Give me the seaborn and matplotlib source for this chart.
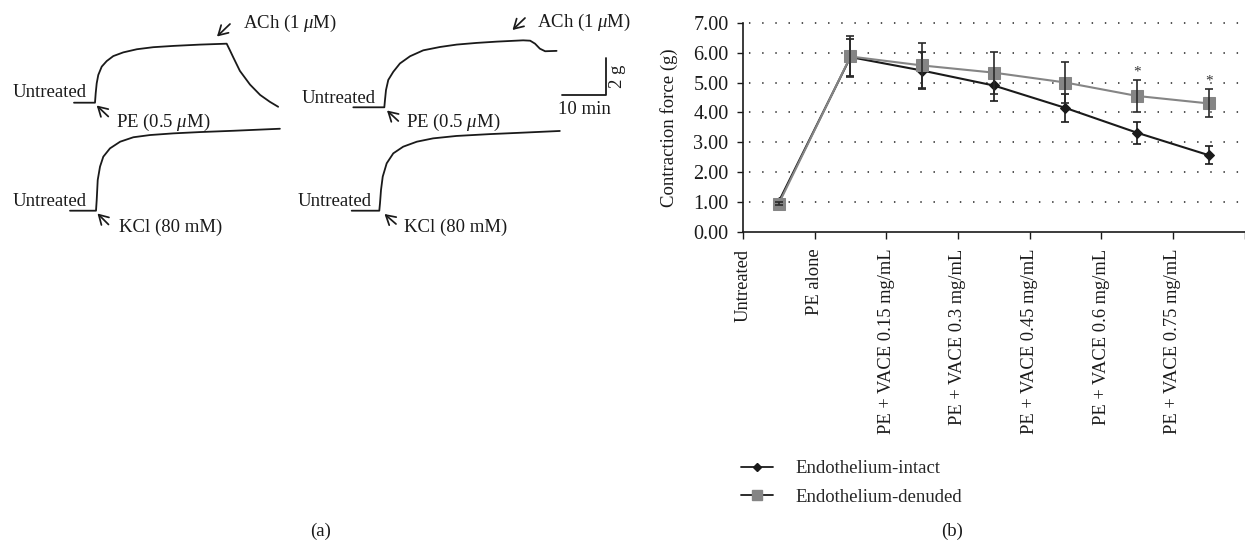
import matplotlib
matplotlib.use("Agg")
import matplotlib.pyplot as plt
import seaborn as sns
import numpy as np
import pandas as pd
from matplotlib.lines import Line2D

# ---------------- data: panel (b) ----------------
categories = ["Untreated", "PE alone", "PE + VACE 0.15 mg/mL", "PE + VACE 0.3 mg/mL",
              "PE + VACE 0.45 mg/mL", "PE + VACE 0.6 mg/mL", "PE + VACE 0.75 mg/mL"]
intact_mean = [1.02, 5.85, 5.40, 4.90, 4.15, 3.32, 2.57]
intact_err = [0.08, 0.62, 0.62, 0.53, 0.48, 0.37, 0.29]
denuded_mean = [0.95, 5.87, 5.57, 5.33, 5.00, 4.55, 4.30]
denuded_err = [0.05, 0.67, 0.75, 0.70, 0.67, 0.52, 0.47]
significant = [False, False, False, False, False, True, True]
y_ticks = [0, 1, 2, 3, 4, 5, 6, 7]

# ---------------- data: panel (a) traces (time in min, force in g) ----------------
pe_intact_t = [0, 4.77, 4.93, 5.16, 5.52, 6.30, 7.43, 8.93, 11.2, 14.3, 18.0, 22.6, 28.6, 34.7,
               35.4, 36.2, 37.7, 40.0, 42.3, 44.5, 46.4]
pe_intact_g = [0, 0, 0.51, 1.05, 1.50, 1.95, 2.25, 2.52, 2.72, 2.89, 3.00, 3.07, 3.14, 3.19,
               2.85, 2.45, 1.72, 0.98, 0.42, 0.05, -0.22]
kcl_intact_t = [0, 5.91, 6.07, 6.30, 6.82, 7.57, 9.09, 11.4, 14.4, 18.2, 23.5, 29.5, 37.1, 47.7]
kcl_intact_g = [0, 0, 0.58, 1.66, 2.38, 2.92, 3.37, 3.73, 3.97, 4.09, 4.18, 4.25, 4.32, 4.43]
pe_denuded_t = [0, 7.05, 7.20, 7.43, 7.95, 9.09, 10.6, 12.9, 15.9, 19.7, 23.5, 28.0, 32.6, 38.6,
                40.2, 41.3, 42.4, 43.6, 46.2]
pe_denuded_g = [0, 0, 0.39, 0.93, 1.48, 1.92, 2.37, 2.76, 3.08, 3.26, 3.39, 3.48, 3.55, 3.62,
                3.60, 3.44, 3.17, 3.03, 3.05]
kcl_denuded_t = [0, 6.27, 6.43, 6.66, 7.05, 7.95, 9.45, 11.7, 14.8, 18.5, 23.8, 31.4, 39.0, 47.3]
kcl_denuded_g = [0, 0, 0.40, 1.12, 1.84, 2.56, 3.10, 3.46, 3.73, 3.91, 4.04, 4.14, 4.22, 4.31]
scale_min = 10
scale_g = 2

# ---------------- style ----------------
sns.set_theme(style="white")
plt.rcParams["font.family"] = ["Liberation Serif", "DejaVu Serif"]
plt.rcParams["mathtext.fontset"] = "custom"
plt.rcParams["mathtext.rm"] = "Liberation Serif"
plt.rcParams["mathtext.it"] = "Liberation Serif:italic"
FS = 13.5
FS_TICK_Y = 14.5
FS_TICK_X = 13.3
INK = "#1a1a1a"
GREY = "#858585"

W, H = 1245, 546
fig = plt.figure(figsize=(W / 100, H / 100), dpi=100)
fig.patch.set_facecolor("white")

# ================= panel (a) =================
axa = fig.add_axes([0, 0, 640 / W, 1])
axa.set_xlim(0, 640)
axa.set_ylim(H, 0)
axa.axis("off")
PX_MIN = 4.4    # px per minute
PX_G = 18.5     # px per gram

traces = [
    (pe_intact_t, pe_intact_g, (74, 102.7)),
    (kcl_intact_t, kcl_intact_g, (70, 210.7)),
    (pe_denuded_t, pe_denuded_g, (353.3, 107.3)),
    (kcl_denuded_t, kcl_denuded_g, (351.7, 210.7)),
]
for t, g, (x0, y0) in traces:
    xs = x0 + np.asarray(t) * PX_MIN
    ys = y0 - np.asarray(g) * PX_G
    sns.lineplot(x=xs, y=ys, sort=False, estimator=None, color=INK, lw=1.3, ax=axa)

arrows = [  # (head, tail)
    ((96.7, 105.5), (108.3, 116.5)),
    ((97.5, 213.5), (108.5, 224.5)),
    ((217.0, 36.5), (230, 24)),
    ((387.0, 110.5), (398.3, 121)),
    ((384.5, 214), (396, 224)),
    ((512.5, 30), (525, 18)),
]
for head, tail in arrows:
    axa.annotate("", xy=head, xytext=tail,
                 arrowprops=dict(arrowstyle="->,head_length=0.55,head_width=0.32",
                                 color=INK, lw=1.25, shrinkA=0, shrinkB=0))

texts = [
    (243, 28.3, "ACh (1 $\\mu$M)", "left"),
    (537, 26.7, "ACh (1 $\\mu$M)", "left"),
    (116, 126.7, "PE (0.5 $\\mu$M)", "left"),
    (406, 127.3, "PE (0.5 $\\mu$M)", "left"),
    (119, 231.7, "KCl (80 mM)", "left"),
    (404, 231.7, "KCl (80 mM)", "left"),
    (87, 96.7, "Untreated", "right"),
    (87, 206, "Untreated", "right"),
    (376, 102.7, "Untreated", "right"),
    (372, 206, "Untreated", "right"),
]
for x, y, s, ha in texts:
    axa.text(x, y, s, ha=ha, va="baseline", fontsize=FS, color=INK)

# scale bar
cx, cy = 606, 95
axa.plot([cx - scale_min * PX_MIN, cx, cx], [cy, cy, cy - scale_g * PX_G], color=INK, lw=1.3)
axa.text(cx - scale_min * PX_MIN / 2, cy + 19, f"{scale_min} min", ha="center", va="baseline",
         fontsize=FS, color=INK)
axa.text(cx + 12, cy - scale_g * PX_G / 2, f"{scale_g} g", ha="center", va="center",
         rotation=90, fontsize=FS, color=INK)
axa.text(321, 531, "(a)", ha="center", va="center", fontsize=FS, color=INK)

# ================= panel (b) =================
left, right, top, bottom = 743, 1244.5, 22.7, 232
axb = fig.add_axes([left / W, 1 - bottom / H, (right - left) / W, (bottom - top) / H])
pos = np.arange(len(categories))
df = pd.DataFrame({
    "pos": np.concatenate([pos, pos]),
    "force": intact_mean + denuded_mean,
    "group": ["Endothelium-intact"] * len(pos) + ["Endothelium-denuded"] * len(pos),
})

# gridlines (dotted)
for yv in y_ticks[1:]:
    axb.axhline(yv, color="#444444", lw=1.3, linestyle=(4, (0.8, 6.5)), clip_on=False, zorder=0)

sns.lineplot(data=df[df.group == "Endothelium-intact"], x="pos", y="force", color=INK,
             marker="D", markersize=5.5, markeredgecolor=INK, lw=1.5, ax=axb,
             label="Endothelium-intact", legend=False, zorder=3)
axb.errorbar(pos, intact_mean, yerr=intact_err, fmt="none", ecolor=INK, elinewidth=1.2,
             capsize=3, capthick=1.2, zorder=3)
sns.lineplot(data=df[df.group == "Endothelium-denuded"], x="pos", y="force", color=GREY,
             marker="s", markersize=9, markeredgecolor=GREY, lw=1.5, ax=axb,
             label="Endothelium-denuded", legend=False, zorder=4)
axb.errorbar(pos, denuded_mean, yerr=denuded_err, fmt="none", ecolor="#2a2a2a", elinewidth=1.2,
             capsize=3, capthick=1.2, zorder=4)

for p, m, e, s in zip(pos, denuded_mean, denuded_err, significant):
    if s:
        axb.text(p, m + e + 0.28, "*", ha="center", va="center", fontsize=11, color="#333333")

axb.set_xlim(-0.5, len(categories) - 0.5)
axb.set_ylim(0, 7)
axb.set_yticks(y_ticks)
axb.set_yticklabels([f"{v:.2f}" for v in y_ticks], fontsize=FS_TICK_Y, color=INK)
axb.set_xticks(np.arange(len(categories) + 1) - 0.5)
axb.set_xticklabels(categories + [""], rotation=90, fontsize=FS_TICK_X, color=INK)
axb.tick_params(axis="y", direction="out", length=4.5, width=1.0, color=INK, pad=6, left=True)
axb.tick_params(axis="x", direction="out", length=5, width=1.0, color=INK, pad=7, bottom=True)
axb.set_xlabel("")
axb.set_ylabel("Contraction force (g)", fontsize=FS, color=INK)
axb.yaxis.set_label_coords(-0.13, 0.5)
for sp in ["top", "right"]:
    axb.spines[sp].set_visible(False)
for sp in ["left", "bottom"]:
    axb.spines[sp].set_color(INK)
    axb.spines[sp].set_linewidth(1.2)
axb.set_facecolor("white")

handles = [
    Line2D([], [], color=INK, lw=1.3, marker="D", markersize=4.5, markeredgecolor=INK),
    Line2D([], [], color=INK, lw=1.3, marker="s", markersize=7, markerfacecolor=GREY,
           markeredgecolor=GREY),
]
fig.legend(handles, ["Endothelium-intact", "Endothelium-denuded"], loc="upper left",
           bbox_to_anchor=(741 / W, 1 - 460 / H), frameon=False, fontsize=FS,
           handlelength=1.7, handletextpad=1.2, labelspacing=0.62, borderpad=0,
           borderaxespad=0)

fig.text(952 / W, 1 - 531 / H, "(b)", ha="center", va="center", fontsize=FS, color=INK)

fig.savefig("out.png", dpi=100, facecolor="white")
